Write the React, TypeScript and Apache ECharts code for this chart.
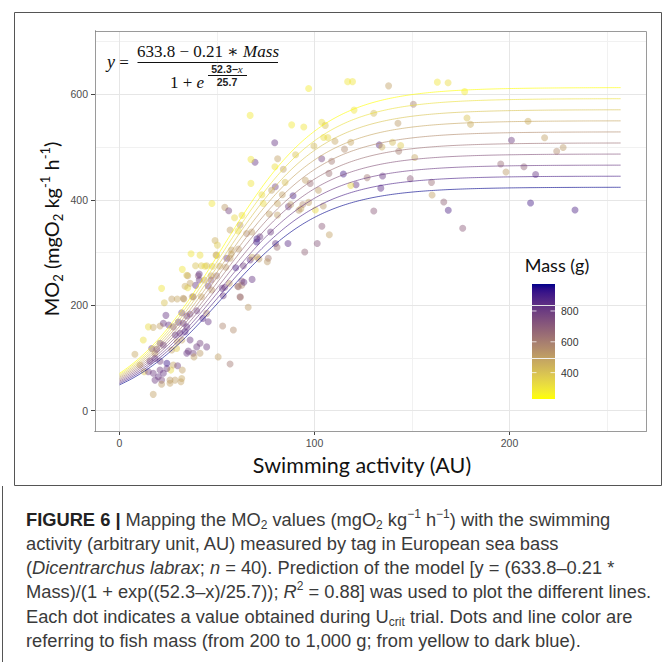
import React, { useEffect, useRef } from "react";
import * as echarts from "echarts";

// ---------- data ----------
const activityValues = [
  117, 119.5, 97, 138, 163, 168.5, 177, 150.7, 120.3, 130.4,
  88.3, 94.5, 103.7, 105.5, 104.7, 106.8, 110.5, 99.7, 118.6, 115.4,
  133.2, 134.6, 140, 144.2, 143.2, 151.4, 142.8, 178.2, 180, 209.5,
  218, 224.2, 227.5, 201, 195.5, 198.2, 207.4, 213.4, 210.8, 233.6,
  160, 160.3, 166.3, 168.6, 176, 149.1, 134, 134.9, 127, 121.3,
  118.6, 130.4, 114.8, 107.4, 108.8, 103.7, 97.8, 95.3, 102, 104.5,
  103.8, 107.6, 101.4, 95, 100.4, 97, 94, 93, 92, 89,
  86.6, 86.4, 81, 81, 87.8, 84.9, 79.9, 78, 73, 73.7,
  79.6, 81.1, 79.7, 84, 90.3, 69.5, 67.4, 67.4, 76.8, 77.5,
  80, 70.3, 72, 80.8, 67, 83.5,
  47.4, 54, 56, 59, 62.8, 61.8, 56.7, 60.8, 65.2, 67.8,
  70.5, 49, 50.2, 36.7, 57.5, 57.3, 61, 55, 56.7, 49.5,
  51.4, 54.5, 59.6, 63.5, 67, 68, 70.7, 71.5, 76.3, 68,
  62.7, 62.7, 61, 75.8, 32.2, 39, 42, 44.7, 35, 40.4,
  47, 49.8, 40.9, 40.9, 39, 43.5, 47, 45.5, 47.3, 52.7,
  54, 56.3, 21.6, 35, 32.7, 37.8, 42, 53.2, 61.8,
  23, 26.8, 29.6, 33, 37.3, 23.8, 31.9, 30.2, 34.5, 36.2,
  39.6, 42.7, 44.7, 14.8, 17.3, 20.8, 22.5, 25.2, 27.6, 12.2,
  7.9, 16.5, 18.2, 19.1, 20.8, 22.5, 28.6, 31, 33.6, 29.6,
  32, 34.5, 35.3, 37.8, 26.3, 27.6, 29.8, 32.2, 10.5, 12.7,
  14.8, 17.3, 19.9, 18.2, 21.6, 25.9, 31.5, 20.8, 22.5, 24.3,
  17.3, 24.3, 15.6, 18.2, 20.8, 26.8, 29.3, 39.6, 41.3, 36.2,
  32.7, 34.5, 45.5, 44.7, 41.3, 38.2, 28.5, 31.9, 25.9, 21.6,
  50.6, 56.7, 58.4, 52.9, 66, 62, 63.8, 60.6, 43.8, 47.6,
  41.3, 49.8, 34.5, 36.2, 33.6,
];

const mo2Values = [
  624, 624, 611, 616, 623, 622, 605, 581, 570, 564,
  542, 538, 547, 541, 518, 518, 511, 502, 509, 496,
  504, 500, 509, 503, 492, 480, 545, 555, 543, 549,
  517.5, 492, 499, 513, 467.7, 452.5, 462.6, 448, 394, 380.5,
  433, 409, 395.6, 380, 345.8, 440, 422, 445, 442, 428.5,
  427, 378.6, 449, 450, 473, 477.7, 431, 437, 418, 388,
  349.6, 333.6, 317, 301, 380.5, 395, 391, 383, 380, 407.6,
  387, 317, 371, 393, 391, 433, 424.6, 418, 409.6, 393,
  508, 477.7, 462.6, 458, 485.3, 471, 476.6, 431, 373, 339,
  317, 320, 330, 310, 560, 409.5,
  393, 385.6, 379, 366, 370.4, 352, 342.6, 341, 336, 339,
  326, 322.6, 314, 297.6, 304.6, 297, 306.7, 289, 289, 295,
  274, 272, 271, 275, 285.7, 291, 290.8, 287.6, 289, 249,
  246, 238, 235, 282.5, 268, 275, 275, 275, 256, 256,
  256, 256, 259, 248, 237.7, 248, 248, 236.4, 228.8, 232,
  234, 241.5, 232, 233, 213, 216, 216, 218, 216,
  204.7, 211.7, 211.7, 211.7, 216, 180.8, 185.8, 168, 179.5, 183.4,
  189.6, 175, 184.6, 159, 158, 160.6, 165.7, 162.5, 159, 134,
  107, 118, 108.8, 116.4, 127.8, 124.5, 143.5, 146.7, 149.8, 130.8,
  134, 108.8, 113, 108.8, 77, 86.6, 85.3, 77, 86.6, 74,
  74, 71, 64.5, 58, 58, 58, 55, 77, 71, 80,
  31, 90, 94, 99, 94, 115, 118, 121, 127.8, 134,
  165.7, 159, 168.7, 121, 108.8, 102, 58, 61, 52, 50,
  102, 88.5, 153, 160.6, 196, 215, 243.4, 236, 274, 274,
  295, 295, 257, 241.5, 236,
];

const massValues = [
  300, 300, 280, 500, 300, 330, 280, 600, 300, 420,
  290, 300, 320, 400, 320, 340, 480, 420, 480, 560,
  850, 450, 420, 380, 600, 480, 520, 400, 460, 460,
  500, 560, 520, 800, 650, 520, 680, 820, 900, 880,
  650, 500, 680, 880, 700, 700, 850, 820, 620, 820,
  330, 700, 900, 640, 620, 780, 650, 500, 500, 520,
  700, 500, 720, 680, 330, 500, 560, 480, 520, 880,
  800, 850, 500, 480, 520, 400, 780, 500, 330, 330,
  820, 500, 320, 500, 400, 820, 300, 300, 500, 800,
  820, 920, 800, 640, 290, 500,
  300, 520, 780, 340, 330, 520, 500, 330, 560, 520,
  900, 450, 380, 300, 500, 480, 520, 800, 500, 480,
  480, 520, 900, 780, 820, 500, 500, 520, 620, 820,
  700, 560, 620, 520, 300, 400, 380, 420, 520, 700,
  500, 620, 820, 800, 820, 500, 700, 800, 520, 820,
  780, 500, 300, 320, 520, 700, 500, 800, 650,
  400, 500, 480, 520, 500, 820, 800, 850, 800, 780,
  800, 850, 560, 330, 480, 500, 800, 820, 760, 320,
  480, 800, 520, 780, 820, 800, 850, 820, 880, 500,
  480, 820, 800, 780, 330, 480, 780, 500, 500, 380,
  780, 800, 820, 800, 760, 520, 500, 800, 820, 800,
  500, 920, 800, 820, 780, 500, 380, 800, 780, 820,
  800, 820, 820, 800, 520, 500, 500, 480, 500, 520,
  500, 620, 560, 580, 520, 620, 820, 620, 330, 400,
  320, 420, 400, 500, 450,
];

// model: y = (A - B * Mass) / (1 + exp((C - x) / D))
const modelA = 633.8;
const modelB = 0.21;
const modelC = 52.3;
const modelD = 25.7;
const lineMasses = [100, 200, 300, 400, 500, 600, 700, 800, 900, 1000];
const lineXStart = 0;
const lineXEnd = 257;

const xTicks = [0, 100, 200];
const yTicks = [0, 200, 400, 600];
const xGridMajor = [0, 100, 200];
const xGridMinor = [50, 150, 250];
const yGridMajor = [0, 200, 400, 600];
const yGridMinor = [100, 300, 500, 700];
const colorbarTicks = [400, 600, 800];
const massMin = 229;
const massMax = 975;

// ---------- colour (Lab interpolation like ggplot) ----------
const LOW = "#FFFF00";
const HIGH = "#00008B";
const lin = (c: number) => {
  const v = c / 255;
  return v <= 0.04045 ? v / 12.92 : Math.pow((v + 0.055) / 1.055, 2.4);
};
const delin = (v: number) => {
  const x = Math.max(0, Math.min(1, v));
  const c = x <= 0.0031308 ? 12.92 * x : 1.055 * Math.pow(x, 1 / 2.4) - 0.055;
  return Math.round(Math.max(0, Math.min(1, c)) * 255);
};
const fLab = (t: number) => (t > 0.008856 ? Math.cbrt(t) : 7.787 * t + 16 / 116);
const fInv = (t: number) => (t > 0.206893 ? t * t * t : (t - 16 / 116) / 7.787);
function hexToLab(h: string) {
  const n = parseInt(h.slice(1), 16);
  const R = lin((n >> 16) & 255), G = lin((n >> 8) & 255), B = lin(n & 255);
  const X = (0.4124 * R + 0.3576 * G + 0.1805 * B) / 0.95047;
  const Y = 0.2126 * R + 0.7152 * G + 0.0722 * B;
  const Z = (0.0193 * R + 0.1192 * G + 0.9505 * B) / 1.08883;
  const fx = fLab(X), fy = fLab(Y), fz = fLab(Z);
  return [116 * fy - 16, 500 * (fx - fy), 200 * (fy - fz)];
}
function labToHex(L: number, a: number, b: number) {
  const fy = (L + 16) / 116, fx = fy + a / 500, fz = fy - b / 200;
  const X = 0.95047 * fInv(fx), Y = fInv(fy), Z = 1.08883 * fInv(fz);
  const r = delin(3.2406 * X - 1.5372 * Y - 0.4986 * Z);
  const g = delin(-0.9689 * X + 1.8758 * Y + 0.0415 * Z);
  const bb = delin(0.0557 * X - 0.204 * Y + 1.057 * Z);
  return "#" + [r, g, bb].map((v) => v.toString(16).padStart(2, "0")).join("");
}
const labLow = hexToLab(LOW);
const labHigh = hexToLab(HIGH);
function colorAt(t: number) {
  const u = Math.max(0, Math.min(1, t));
  return labToHex(
    labLow[0] + (labHigh[0] - labLow[0]) * u,
    labLow[1] + (labHigh[1] - labLow[1]) * u,
    labLow[2] + (labHigh[2] - labLow[2]) * u
  );
}
const NSTOP = 24;
const colorStopsList = Array.from({ length: NSTOP + 1 }, (_, i) => colorAt(i / NSTOP));

// ---------- layout ----------
const GRID = { left: 95, top: 31, width: 551, height: 400 };
const X_MIN = -12.56;
const X_MAX = 270.0;
const Y_MIN = -38.5;
const Y_MAX = 720;
const BAR = { x: 532, y: 284, w: 23, h: 115 };

const SANS = "'Liberation Sans', Arial, sans-serif";
const TITLE = "Lato, 'Open Sans', sans-serif";
const SERIF = "'Liberation Serif', 'DejaVu Serif', serif";

function buildOption() {
  const scatterData = activityValues.map((x, i) => [x, mo2Values[i], massValues[i]]);
  const lineSeries = lineMasses.map((m) => {
    const data: number[][] = [];
    for (let x = lineXStart; x <= lineXEnd; x += 1) {
      data.push([x, (modelA - modelB * m) / (1 + Math.exp((modelC - x) / modelD))]);
    }
    return {
      type: "line",
      data,
      showSymbol: false,
      silent: true,
      z: 3,
      lineStyle: { color: colorAt((m - 100) / 900), width: 1, opacity: 0.62 },
    };
  });

  const gridLine = (v: number, axis: "xAxis" | "yAxis", major: boolean) => ({
    [axis]: v,
    lineStyle: { color: major ? "#e6e6e6" : "#f1f1f1", width: 1, type: "solid" },
  });

  const barY = (v: number) => BAR.y + BAR.h - ((v - massMin) / (massMax - massMin)) * BAR.h;

  const CAP = 18.3;
  const captionStyle = (text: string) => ({
    text,
    fill: "#3a3a3a",
    fontSize: CAP,
    fontFamily: SANS,
    lineHeight: 23,
    verticalAlign: "middle",
    align: "left",
    rich: {
      b: { fontWeight: "bold", fontSize: CAP, fontFamily: SANS, fill: "#222", lineHeight: 23 },
      i: { fontStyle: "italic", fontSize: CAP, fontFamily: SANS, fill: "#3a3a3a", lineHeight: 23 },
      sub: { fontSize: 12, fontFamily: SANS, verticalAlign: "bottom", lineHeight: 15, fill: "#3a3a3a" },
      sup: { fontSize: 12, fontFamily: SANS, verticalAlign: "top", lineHeight: 10, fill: "#3a3a3a" },
    },
  });
  const captionLines = [
    "{b|FIGURE 6 |} Mapping the MO{sub|2} values (mgO{sub|2} kg{sup|−1} h{sup|−1}) with the swimming",
    "activity (arbitrary unit, AU) measured by tag in European sea bass",
    "({i|Dicentrarchus labrax}; {i|n} = 40). Prediction of the model [y = (633.8–0.21 *",
    "Mass)/(1 + exp((52.3–x)/25.7)); {i|R}{sup|2} = 0.88] was used to plot the different lines.",
    "Each dot indicates a value obtained during U{sub|crit} trial. Dots and line color are",
    "referring to fish mass (from 200 to 1,000 g; from yellow to dark blue).",
  ];

  const graphics: any[] = [
    { type: "rect", silent: true, z: 0, shape: { x: 14.5, y: 12.5, width: 647, height: 473 }, style: { fill: "none", stroke: "#555", lineWidth: 1 } },
    { type: "line", silent: true, shape: { x1: 2.5, y1: 486, x2: 2.5, y2: 662 }, style: { stroke: "#555", lineWidth: 1 } },
    { type: "rect", silent: true, z: 10, shape: { x: GRID.left + 0.5, y: GRID.top + 0.5, width: GRID.width, height: GRID.height }, style: { fill: "none", stroke: "#9a9a9a", lineWidth: 1 } },
    // formula
    { type: "text", z: 20, x: 107, y: 62, style: { text: "{i|y} =", fontSize: 17, fontFamily: SERIF, fill: "#111", verticalAlign: "middle", rich: { i: { fontStyle: "italic", fontSize: 18, fontFamily: SERIF } } } },
    { type: "text", z: 20, x: 208, y: 51, style: { text: "633.8 − 0.21 ∗ {i|Mass}", fontSize: 17, fontFamily: SERIF, fill: "#111", align: "center", verticalAlign: "middle", rich: { i: { fontStyle: "italic", fontSize: 17, fontFamily: SERIF } } } },
    { type: "line", z: 20, shape: { x1: 137.5, y1: 62.5, x2: 278, y2: 62.5 }, style: { stroke: "#111", lineWidth: 1.2 } },
    { type: "text", z: 20, x: 170, y: 82, style: { text: "1 + {i|e}", fontSize: 17, fontFamily: SERIF, fill: "#111", verticalAlign: "middle", rich: { i: { fontStyle: "italic", fontSize: 17, fontFamily: SERIF } } } },
    { type: "text", z: 20, x: 227, y: 69, style: { text: "52.3−{i|x}", fontSize: 10.5, fontFamily: SANS, fontWeight: "bold", fill: "#222", align: "center", verticalAlign: "middle", rich: { i: { fontStyle: "italic", fontSize: 11, fontFamily: SERIF } } } },
    { type: "line", z: 20, shape: { x1: 208, y1: 75.5, x2: 247, y2: 75.5 }, style: { stroke: "#111", lineWidth: 1 } },
    { type: "text", z: 20, x: 227, y: 82, style: { text: "25.7", fontSize: 10.5, fontFamily: SANS, fontWeight: "bold", fill: "#222", align: "center", verticalAlign: "middle" } },
    // axis titles
    { type: "text", x: 362, y: 465, style: { text: "Swimming activity (AU)", fontSize: 21.5, fontFamily: TITLE, fill: "#111", align: "center", verticalAlign: "middle" } },
    {
      type: "text", x: 51, y: 229, rotation: Math.PI / 2,
      style: {
        text: "MO{sub|2} (mgO{sub|2} kg{sup|-1} h{sup|-1})", fontSize: 20, fontFamily: TITLE, fill: "#111", align: "center", verticalAlign: "middle", lineHeight: 26,
        rich: {
          sub: { fontSize: 13, fontFamily: TITLE, verticalAlign: "bottom", lineHeight: 17, fill: "#111" },
          sup: { fontSize: 13, fontFamily: TITLE, verticalAlign: "top", lineHeight: 12, fill: "#111" },
        },
      },
    },
    // colour bar
    { type: "text", x: 557, y: 265, style: { text: "Mass (g)", fontSize: 18, fontFamily: TITLE, fill: "#111", align: "center", verticalAlign: "middle" } },
    {
      type: "rect", shape: { x: BAR.x, y: BAR.y, width: BAR.w, height: BAR.h },
      style: {
        fill: { type: "linear", x: 0, y: 1, x2: 0, y2: 0, colorStops: colorStopsList.map((c, i) => ({ offset: i / NSTOP, color: c })) },
      },
    },
    ...colorbarTicks.flatMap((v) => [
      { type: "line", z: 5, shape: { x1: BAR.x, y1: barY(v), x2: BAR.x + 4.5, y2: barY(v) }, style: { stroke: "rgba(255,255,255,0.75)", lineWidth: 1 } },
      { type: "line", z: 5, shape: { x1: BAR.x + BAR.w - 4.5, y1: barY(v), x2: BAR.x + BAR.w, y2: barY(v) }, style: { stroke: "rgba(255,255,255,0.75)", lineWidth: 1 } },
      { type: "text", x: 561, y: barY(v), style: { text: String(v), fontSize: 10.5, fontFamily: SANS, fill: "#333", verticalAlign: "middle" } },
    ]),
    // caption
    ...captionLines.map((t, i) => ({ type: "text", x: 26, y: 519 + i * 24.3, style: captionStyle(t) })),
  ];

  return {
    animation: false,
    backgroundColor: "#fff",
    grid: { ...GRID, containLabel: false, outerBoundsMode: "none" },
    xAxis: {
      type: "value", min: X_MIN, max: X_MAX,
      axisLine: { show: true, onZero: false, lineStyle: { color: "#444", width: 1 } },
      axisTick: { show: true, customValues: xTicks, length: 4, lineStyle: { color: "#444" } },
      axisLabel: { customValues: xTicks, color: "#4d4d4d", fontSize: 10.5, margin: 6, fontFamily: SANS },
      splitLine: { show: false },
    },
    yAxis: {
      type: "value", min: Y_MIN, max: Y_MAX,
      axisLine: { show: true, onZero: false, lineStyle: { color: "#444", width: 1 } },
      axisTick: { show: true, customValues: yTicks, length: 4, lineStyle: { color: "#444" } },
      axisLabel: { customValues: yTicks, color: "#4d4d4d", fontSize: 10.5, margin: 7, fontFamily: SANS },
      splitLine: { show: false },
    },
    visualMap: {
      type: "continuous", show: false, dimension: 2, min: massMin, max: massMax,
      seriesIndex: 1, inRange: { color: colorStopsList },
    },
    series: [
      {
        type: "line", data: [], silent: true,
        markLine: {
          silent: true, symbol: ["none", "none"], label: { show: false }, z: 1, animation: false,
          data: [
            ...xGridMinor.map((v) => gridLine(v, "xAxis", false)),
            ...yGridMinor.map((v) => gridLine(v, "yAxis", false)),
            ...xGridMajor.map((v) => gridLine(v, "xAxis", true)),
            ...yGridMajor.map((v) => gridLine(v, "yAxis", true)),
          ],
        },
      },
      {
        type: "scatter", data: scatterData, symbolSize: 7, z: 2,
        itemStyle: { opacity: 0.45 },
      },
      ...lineSeries,
    ],
    graphic: { elements: graphics },
  };
}

export default function App() {
  const ref = useRef<HTMLDivElement>(null);
  useEffect(() => {
    if (!ref.current) return;
    const chart = echarts.init(ref.current, null, { renderer: "svg" });
    chart.setOption(buildOption() as any);
    return () => chart.dispose();
  }, []);
  return (
    <div
      ref={ref}
      style={{ position: "absolute", left: 0, top: 0, width: 669, height: 662, background: "#fff" }}
    />
  );
}
